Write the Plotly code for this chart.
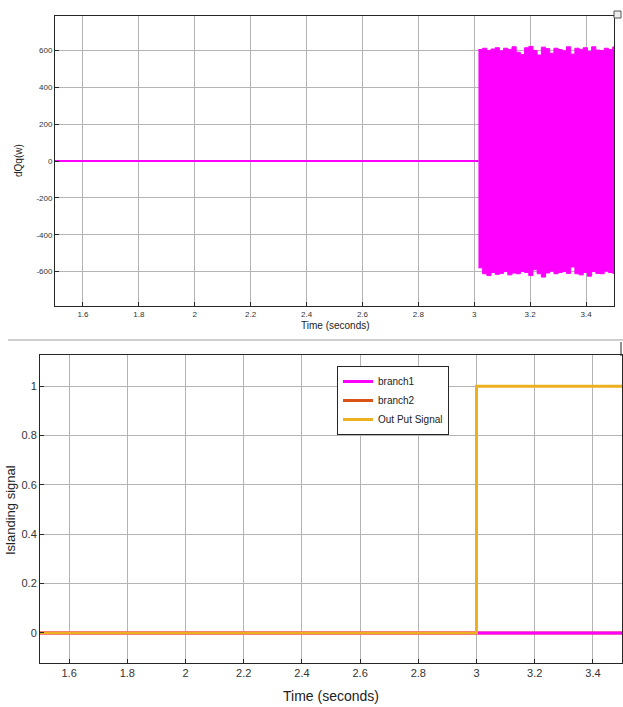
import plotly.graph_objects as go

# ---------------- data ----------------
# top panel: dQq(w)
t_flat = [1.5, 3.015]
dq_flat = [0, 0]
t_env = [3.015, 3.03, 3.045, 3.06, 3.075, 3.09, 3.105, 3.12, 3.135, 3.15, 3.165, 3.18,
         3.195, 3.21, 3.225, 3.24, 3.255, 3.27, 3.285, 3.30, 3.315, 3.33, 3.345, 3.36,
         3.375, 3.39, 3.405, 3.42, 3.435, 3.45, 3.465, 3.48, 3.495, 3.5]
dq_upper = [605, 612, 600, 608, 615, 598, 612, 606, 620, 590, 578, 615, 622, 600, 575, 618, 610,
            585, 612, 605, 598, 620, 580, 612, 606, 615, 595, 620, 602, 600, 612, 605, 618, 625]
dq_lower = [-580, -612, -622, -605, -615, -610, -600, -618, -608, -612, -600, -605, -622, -590,
            -612, -630, -608, -598, -612, -605, -600, -610, -575, -612, -618, -605, -625, -600,
            -610, -612, -598, -605, -610, -612]

# bottom panel: islanding signal
t_sig = [1.5, 3.0, 3.0, 3.5]
branch1 = [0, 0, 0, 0]
branch2 = [0, 0, 0, 0]
output_signal = [0, 0, 1, 1]

x_ticks = [1.6, 1.8, 2.0, 2.2, 2.4, 2.6, 2.8, 3.0, 3.2, 3.4]
x_ticktext = ["1.6", "1.8", "2", "2.2", "2.4", "2.6", "2.8", "3", "3.2", "3.4"]
top_yticks = [-600, -400, -200, 0, 200, 400, 600]
top_yticktext = ["-600", "-400", "-200", "0", "200", "400", "600"]
bot_yticks = [0, 0.2, 0.4, 0.6, 0.8, 1]
bot_yticktext = ["0", "0.2", "0.4", "0.6", "0.8", "1"]

W, H = 623, 707
MAG = "#FF00FF"
RED = "#D95319"
YEL = "#EDB120"
GRID = "#b4b4b4"
AXC = "#262626"
NARROW = "Liberation Sans Narrow, Arial Narrow, Liberation Sans, Arial, sans-serif"
SANS = "Liberation Sans, Arial, sans-serif"

def px_x(p):
    return p / W

def px_y(p):
    return 1 - p / H

fig = go.Figure()

# top panel traces
fig.add_trace(go.Scatter(x=t_flat, y=dq_flat, mode="lines", line=dict(color=MAG, width=2),
                         showlegend=False, xaxis="x", yaxis="y", hoverinfo="skip"))
fig.add_trace(go.Scatter(x=t_env, y=dq_upper, mode="lines", line=dict(color=MAG, width=1, shape="hv"),
                         showlegend=False, xaxis="x", yaxis="y", hoverinfo="skip"))
fig.add_trace(go.Scatter(x=t_env, y=dq_lower, mode="lines", line=dict(color=MAG, width=1, shape="hv"),
                         fill="tonexty", fillcolor=MAG,
                         showlegend=False, xaxis="x", yaxis="y", hoverinfo="skip"))

# bottom panel traces (branch2 drawn first so branch1 shows on top, as in the reference)
fig.add_trace(go.Scatter(x=t_sig, y=branch2, mode="lines", name="branch2", legendrank=2,
                         line=dict(color=RED, width=3), xaxis="x2", yaxis="y2"))
fig.add_trace(go.Scatter(x=t_sig, y=branch1, mode="lines", name="branch1", legendrank=1,
                         line=dict(color=MAG, width=3), xaxis="x2", yaxis="y2"))
fig.add_trace(go.Scatter(x=t_sig, y=output_signal, mode="lines", name="Out Put Signal", legendrank=3,
                         line=dict(color=YEL, width=3), xaxis="x2", yaxis="y2"))

axis_common = dict(showline=True, mirror=True, linecolor=AXC, linewidth=1,
                   showgrid=True, gridcolor=GRID, gridwidth=1, zeroline=False,
                   ticks="inside", ticklen=4, tickcolor=AXC)

fig.update_layout(
    width=W, height=H, autosize=False,
    margin=dict(l=0, r=0, t=0, b=0),
    paper_bgcolor="white", plot_bgcolor="white",
    xaxis=dict(domain=[px_x(55), px_x(614)], range=[1.5, 3.5], anchor="y",
               tickvals=x_ticks, ticktext=x_ticktext,
               tickfont=dict(family=SANS, size=8, color="#333333"), **axis_common),
    yaxis=dict(domain=[px_y(306), px_y(16)], range=[-787, 787], anchor="x",
               tickvals=top_yticks, ticktext=top_yticktext,
               tickfont=dict(family=SANS, size=8, color="#333333"), **axis_common),
    xaxis2=dict(domain=[px_x(40), px_x(622)], range=[1.5, 3.5], anchor="y2",
                tickvals=x_ticks, ticktext=x_ticktext,
                tickfont=dict(family=NARROW, size=11, color="#333333"), **axis_common),
    yaxis2=dict(domain=[px_y(663), px_y(355)], range=[-0.122, 1.127], anchor="x2",
                tickvals=bot_yticks, ticktext=bot_yticktext,
                tickfont=dict(family=NARROW, size=11, color="#333333"), **axis_common),
    legend=dict(x=px_x(337), y=px_y(366), xanchor="left", yanchor="top",
                bgcolor="white", bordercolor=AXC, borderwidth=1,
                font=dict(family=NARROW, size=10, color="#222222"),
                tracegroupgap=0, traceorder="normal", itemwidth=30),
    showlegend=True,
)

annotations = [
    dict(text="Time (seconds)", x=px_x(335), y=px_y(326), xref="paper", yref="paper",
         xanchor="center", yanchor="middle",
         showarrow=False, font=dict(family=SANS, size=10, color="#222222")),
    dict(text="dQq(w)", x=px_x(18), y=px_y(161), xref="paper", yref="paper",
         xanchor="center", yanchor="middle",
         showarrow=False, textangle=-90, font=dict(family=SANS, size=10, color="#222222")),
    dict(text="Time (seconds)", x=px_x(331), y=px_y(696), xref="paper", yref="paper",
         xanchor="center", yanchor="middle",
         showarrow=False, font=dict(family=NARROW, size=14, color="#222222")),
    dict(text="Islanding signal", x=px_x(10), y=px_y(510), xref="paper", yref="paper",
         xanchor="center", yanchor="middle",
         showarrow=False, textangle=-90, font=dict(family=SANS, size=13, color="#222222")),
]
fig.update_layout(annotations=annotations)

shapes = [
    # separator band between the two screenshots
    dict(type="line", xref="paper", yref="paper", x0=px_x(8), x1=1, y0=px_y(340), y1=px_y(340),
         line=dict(color="#cfcfcf", width=2)),
    dict(type="line", xref="paper", yref="paper", x0=px_x(621), x1=px_x(621),
         y0=px_y(342), y1=px_y(356), line=dict(color="#222222", width=1)),
    # small icon at top right
    dict(type="rect", xref="paper", yref="paper", x0=px_x(614), x1=px_x(621),
         y0=px_y(18), y1=px_y(11), line=dict(color="#555555", width=1), fillcolor="#eeeeee"),
]
fig.update_layout(shapes=shapes)

fig.write_html("out.html",
               config={"displayModeBar": False},
               post_script="document.body.style.margin='0';document.body.style.padding='0';"
                           "document.body.style.overflow='hidden';")
